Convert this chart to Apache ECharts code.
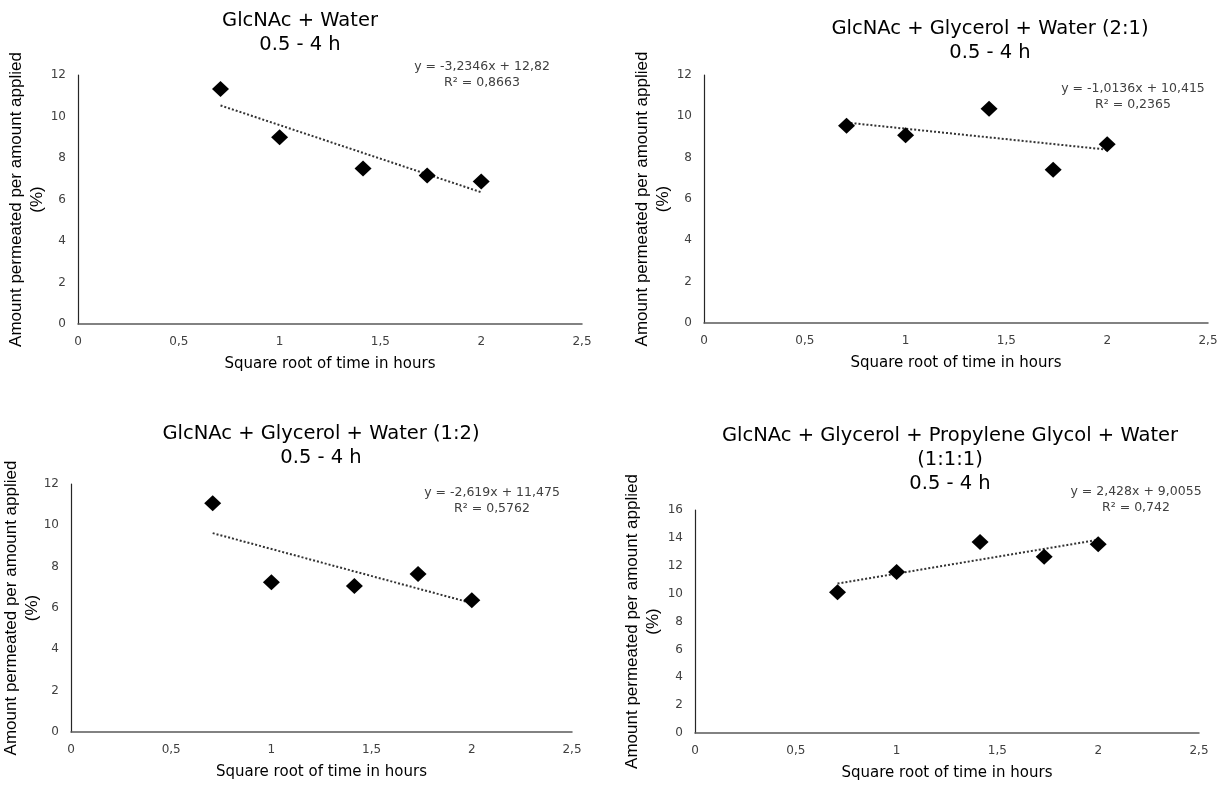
<!DOCTYPE html>
<html>
<head>
<meta charset="utf-8">
<title>GlcNAc permeation vs square root of time</title>
<script src="https://cdn.jsdelivr.net/npm/echarts@6/dist/echarts.min.js"></script>
<style>
  html, body { margin: 0; padding: 0; background: #fff; }
  #chart { width: 1223px; height: 787px; }
</style>
</head>
<body>
<div id="chart"></div>
<script>
// Square root of sampling times (0.5, 1, 2, 3, 4 h)
const sqrtTime = [0.707, 1, 1.414, 1.732, 2];

const panelTitles = [
  'GlcNAc + Water\n0.5 - 4 h',
  'GlcNAc + Glycerol + Water (2:1)\n0.5 - 4 h',
  'GlcNAc + Glycerol + Water (1:2)\n0.5 - 4 h',
  'GlcNAc + Glycerol + Propylene Glycol + Water\n(1:1:1)\n0.5 - 4 h'
];

// Amount permeated per amount applied (%)
const water = [11.32, 9.0, 7.5, 7.16, 6.87];
const glyWater21 = [9.55, 9.09, 10.37, 7.41, 8.65];
const glyWater12 = [11.07, 7.25, 7.07, 7.65, 6.38];
const glyPgWater111 = [10.1, 11.55, 13.7, 12.65, 13.55];

// Linear trendline coefficients (slope, intercept, R²)
const slopes = [-3.2346, -1.0136, -2.619, 2.428];
const intercepts = [12.82, 10.415, 11.475, 9.0055];
const rSquared = ['0,8663', '0,2365', '0,5762', '0,742'];
const slopeText = ['-3,2346', '-1,0136', '-2,619', '2,428'];
const interceptText = ['12,82', '10,415', '11,475', '9,0055'];

const yMax = [12, 12, 12, 16];

const seriesData = [water, glyWater21, glyWater12, glyPgWater111];

const grids = [
  { left: 78, top: 75, width: 504, height: 249 },
  { left: 704, top: 75, width: 504, height: 248 },
  { left: 68, top: 484, width: 504, height: 248 },
  { left: 695, top: 510, width: 504, height: 223 }
];
const titlePos = [
  { x: 295, y: 4 },
  { x: 985, y: 12 },
  { x: 316, y: 417 },
  { x: 945, y: 419 }
];
const eqPos = [
  { x: 477, y: 54 },
  { x: 1128, y: 76 },
  { x: 487, y: 480 },
  { x: 1131, y: 479 }
];
const yNameGap = [30, 30, 28, 31];

const FONT = 'DejaVu Sans, Verdana, sans-serif';
const NAME_FONT = 'Liberation Sans, Arial, sans-serif';
const fmt = v => String(v).replace('.', ',');

const option = {
  animation: false,
  backgroundColor: '#ffffff',
  title: panelTitles.map((t, i) => ({
    text: t,
    left: titlePos[i].x,
    top: titlePos[i].y,
    textAlign: 'center',
    textStyle: { fontFamily: FONT, fontSize: 19.5, fontWeight: 'normal', color: '#000', lineHeight: 24 }
  })).concat(slopes.map((s, i) => ({
    text: 'y = ' + slopeText[i] + 'x + ' + interceptText[i] + '\nR² = ' + rSquared[i],
    left: eqPos[i].x,
    top: eqPos[i].y,
    textAlign: 'center',
    textStyle: { fontFamily: FONT, fontSize: 12.5, fontWeight: 'normal', color: '#404040', lineHeight: 16, align: 'center' }
  }))),
  grid: grids,
  xAxis: grids.map((g, i) => ({
    gridIndex: i,
    type: 'value',
    min: 0,
    max: 2.5,
    interval: 0.5,
    name: 'Square root of time in hours',
    nameLocation: 'middle',
    nameGap: 33,
    nameMoveOverlap: false,
    nameTextStyle: { fontFamily: FONT, fontSize: 15, color: '#000' },
    axisLine: { show: true, onZero: false, lineStyle: { color: '#595959', width: 1.5 } },
    axisTick: { show: false },
    splitLine: { show: false },
    axisLabel: { fontFamily: FONT, fontSize: 12, color: '#404040', margin: 12, formatter: fmt }
  })),
  yAxis: grids.map((g, i) => ({
    gridIndex: i,
    type: 'value',
    min: 0,
    max: yMax[i],
    interval: 2,
    name: 'Amount permeated per amount applied\n(%)',
    nameLocation: 'middle',
    nameRotate: 90,
    nameGap: yNameGap[i],
    nameMoveOverlap: false,
    nameTextStyle: { fontFamily: NAME_FONT, fontSize: 17, color: '#000', lineHeight: 21, align: 'center' },
    axisLine: { show: true, onZero: false, lineStyle: { color: '#262626', width: 1.2 } },
    axisTick: { show: false },
    splitLine: { show: false },
    axisLabel: { fontFamily: FONT, fontSize: 12, color: '#404040', margin: 12 }
  })),
  series: seriesData.flatMap((vals, i) => {
    const x0 = sqrtTime[0];
    const x1 = sqrtTime[sqrtTime.length - 1];
    return [
      {
        type: 'line',
        xAxisIndex: i,
        yAxisIndex: i,
        data: [[x0, slopes[i] * x0 + intercepts[i]], [x1, slopes[i] * x1 + intercepts[i]]],
        showSymbol: false,
        symbol: 'none',
        lineStyle: { color: '#333', width: 2, type: [2, 2] },
        z: 2
      },
      {
        type: 'scatter',
        xAxisIndex: i,
        yAxisIndex: i,
        data: sqrtTime.map((x, k) => [x, vals[k]]),
        symbol: 'diamond',
        symbolSize: [17, 16],
        itemStyle: { color: '#000', opacity: 1 },
        z: 3
      }
    ];
  })
};

const chart = echarts.init(document.getElementById('chart'), null, { renderer: 'canvas' });
chart.setOption(option);
</script>
</body>
</html>
